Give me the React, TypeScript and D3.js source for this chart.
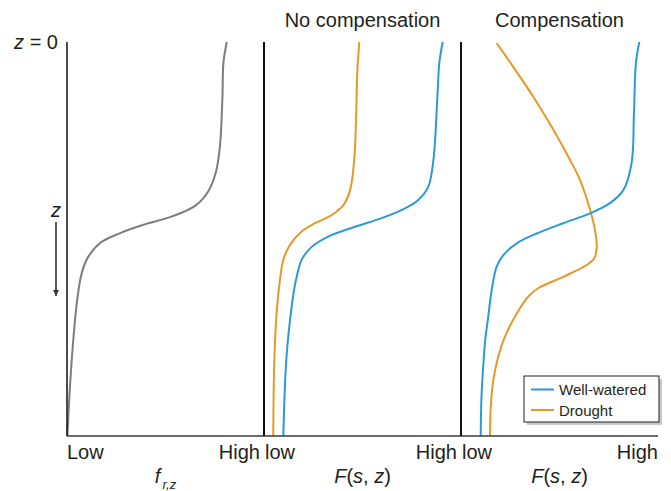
import React, { useRef, useEffect } from 'react';
import * as d3 from 'd3';

// depth axis runs 0 (surface) .. 100 (bottom); x values are 0 (low) .. 100 (high) within each panel
const rootFrac = [
  [81.1, 0], [79.4, 5.3], [78.9, 14], [77.6, 26.6], [75.5, 33.2], [71.6, 38.0], [65.0, 41.6],
  [52.6, 44.4], [38.8, 46.4], [27.0, 48.5], [16.8, 51], [10.7, 54.6], [7.5, 58.6],
  [5.0, 66.2], [2.9, 77.4], [1.2, 90.1], [0.2, 100],
];
const noCompWet = [
  [90.7, 0], [89.0, 5.3], [88.0, 14], [86.0, 29.9], [83.4, 36.7], [78.3, 40.1], [71.6, 42.2],
  [59.7, 44.7], [46.2, 46.9], [32.6, 49.4], [24.2, 52.0], [19.1, 55.3], [16.6, 59.6],
  [15.4, 62.5], [13.2, 70.6], [11.2, 81.5], [9.8, 100],
];
const noCompDry = [
  [48.4, 0], [47.4, 7.1], [46.7, 20], [45.8, 29.9], [43.7, 37.6], [40.3, 41.4], [34.4, 43.9],
  [25.9, 46.0], [19.1, 48.1], [13.2, 51.5], [9.8, 55.3], [8.1, 60.4], [6.4, 68.8],
  [5.2, 81.5], [4.7, 100],
];
const compWet = [
  [90.5, 0], [88.8, 5.3], [87.8, 18], [86.6, 30.7], [82.4, 37.6], [75.6, 40.9], [65.5, 43.5],
  [51.9, 46.0], [38.4, 48.6], [28.3, 51.1], [21.5, 54.1], [18.1, 57.0], [15.6, 62.9],
  [13.6, 70.6], [12.4, 75.1], [11.4, 81.5], [10.4, 90], [10.0, 100],
];
const compDry = [
  [18.1, 0.3], [26.5, 6.3], [36.7, 13.9], [46.9, 22.3], [55.3, 29.9], [60.4, 35.0], [65.5, 42.6],
  [68.0, 47.7], [68.9, 52.0], [67.7, 54.9], [63.8, 56.6], [51.9, 59.6], [39.2, 62.5],
  [34.2, 64.6], [28.3, 68.9], [22.3, 74.8], [18.9, 79.9], [16.4, 85.8], [15.1, 92.6], [14.7, 100],
];
const panelTitles = ['', 'No compensation', 'Compensation'];
const legendNames = ['Well-watered', 'Drought'];

const W = 671, H = 491;
const FONT = '"Liberation Sans", Arial, sans-serif';
const TXT = '#231f20';
const BLUE = '#2b9ad6';
const ORANGE = '#e39a28';
const GREY = '#7d7d7d';

export default function App() {
  const svg_ref = useRef(null);
  useEffect(() => { draw(svg_ref.current); }, []);
  return (
    <svg ref={svg_ref} width={W} height={H}
      style={{ position: 'absolute', left: 0, top: 0, display: 'block', background: '#fff' }} />
  );
}

function draw(node) {
  const svg = d3.select(node);
  svg.selectAll('*').remove();
  svg.style('font-family', FONT);

  const top = 42, bottom = 436, left = 67, right = 658;
  const scaleY = d3.scaleLinear().domain([0, 100]).range([top, bottom]);
  const band = d3.scaleBand().domain(['0', '1', '2']).range([left, right]).padding(0);
  const scaleX = (i) => d3.scaleLinear().domain([0, 100]).range([band(String(i)), band(String(i)) + band.bandwidth()]);

  const line = (sx) => d3.line().x(d => sx(d[0])).y(d => scaleY(d[1])).curve(d3.curveCatmullRom.alpha(0.5));

  // curves
  const series = [
    { p: 0, data: rootFrac, color: GREY },
    { p: 1, data: noCompDry, color: ORANGE },
    { p: 1, data: noCompWet, color: BLUE },
    { p: 2, data: compDry, color: ORANGE },
    { p: 2, data: compWet, color: BLUE },
  ];
  svg.selectAll('path.curve')
    .data(series)
    .join('path')
    .attr('class', 'curve')
    .attr('d', d => line(scaleX(d.p))(d.data))
    .attr('fill', 'none')
    .attr('stroke', d => d.color)
    .attr('stroke-width', 2);

  // axes / dividers
  svg.append('line')
    .attr('x1', left).attr('x2', right).attr('y1', bottom).attr('y2', bottom)
    .attr('stroke', '#3a3a3a').attr('stroke-width', 1.5);
  [0, 1, 2].forEach(i => {
    const x = scaleX(i)(0);
    svg.append('line')
      .attr('x1', x).attr('x2', x).attr('y1', top).attr('y2', bottom)
      .attr('stroke', '#111').attr('stroke-width', i === 0 ? 1.5 : 2);
  });

  // tick labels
  [0, 1, 2].forEach(i => {
    const sx = scaleX(i);
    svg.append('text')
      .attr('x', sx(0) + (i === 0 ? 0 : 1)).attr('y', 459)
      .attr('font-size', 20).attr('fill', TXT)
      .text(i === 0 ? 'Low' : 'low');
    svg.append('text')
      .attr('x', sx(100) - (i === 2 ? 0 : 4)).attr('y', 459)
      .attr('text-anchor', 'end')
      .attr('font-size', 20).attr('fill', TXT)
      .text('High');
    if (panelTitles[i]) {
      svg.append('text')
        .attr('x', (sx(0) + sx(100)) / 2).attr('y', 27)
        .attr('text-anchor', 'middle')
        .attr('font-size', 20).attr('fill', TXT)
        .text(panelTitles[i]);
    }
  });

  // x titles
  const fr = svg.append('text')
    .attr('x', (scaleX(0)(0) + scaleX(0)(100)) / 2).attr('y', 483)
    .attr('text-anchor', 'middle').attr('font-size', 20).attr('fill', TXT)
    .attr('font-style', 'italic');
  fr.append('tspan').text('f');
  fr.append('tspan').attr('font-size', 13).attr('dy', 6).attr('dx', 2).text('r,z');

  [1, 2].forEach(i => {
    const t = svg.append('text')
      .attr('x', (scaleX(i)(0) + scaleX(i)(100)) / 2).attr('y', 483)
      .attr('text-anchor', 'middle').attr('font-size', 20).attr('fill', TXT);
    t.append('tspan').attr('font-style', 'italic').text('F');
    t.append('tspan').text('(');
    t.append('tspan').attr('font-style', 'italic').text('s');
    t.append('tspan').text(', ');
    t.append('tspan').attr('font-style', 'italic').text('z');
    t.append('tspan').text(')');
  });

  // depth labels
  const z0 = svg.append('text')
    .attr('x', 58).attr('y', 49).attr('text-anchor', 'end')
    .attr('font-size', 20).attr('fill', TXT);
  z0.append('tspan').attr('font-style', 'italic').text('z');
  z0.append('tspan').text(' = 0');

  svg.append('text')
    .attr('x', 56).attr('y', 217).attr('text-anchor', 'middle')
    .attr('font-size', 20).attr('font-style', 'italic').attr('fill', TXT)
    .text('z');
  svg.append('defs').append('marker')
    .attr('id', 'arr').attr('viewBox', '0 0 10 10')
    .attr('refX', 10).attr('refY', 5)
    .attr('markerWidth', 4).attr('markerHeight', 4)
    .attr('markerUnits', 'strokeWidth')
    .attr('orient', 'auto')
    .append('path').attr('d', 'M0,0L10,5L0,10z').attr('fill', '#333');
  svg.append('line')
    .attr('x1', 56).attr('x2', 56).attr('y1', 222).attr('y2', 296)
    .attr('stroke', '#333').attr('stroke-width', 1.6)
    .attr('marker-end', 'url(#arr)');

  // legend
  const lg = svg.append('g').attr('transform', 'translate(524,376)');
  lg.append('rect')
    .attr('x', 3).attr('y', 3).attr('width', 135).attr('height', 46)
    .attr('fill', '#c8c8c8');
  lg.append('rect')
    .attr('width', 135).attr('height', 46)
    .attr('fill', '#fff').attr('stroke', '#222').attr('stroke-width', 1);
  const legColors = [BLUE, ORANGE];
  legendNames.forEach((name, i) => {
    const y = 13.5 + i * 20.5;
    lg.append('line')
      .attr('x1', 7).attr('x2', 30).attr('y1', y).attr('y2', y)
      .attr('stroke', legColors[i]).attr('stroke-width', 2);
    lg.append('text')
      .attr('x', 35).attr('y', y + 5.5)
      .attr('font-size', 15).attr('fill', TXT)
      .text(name);
  });
}
